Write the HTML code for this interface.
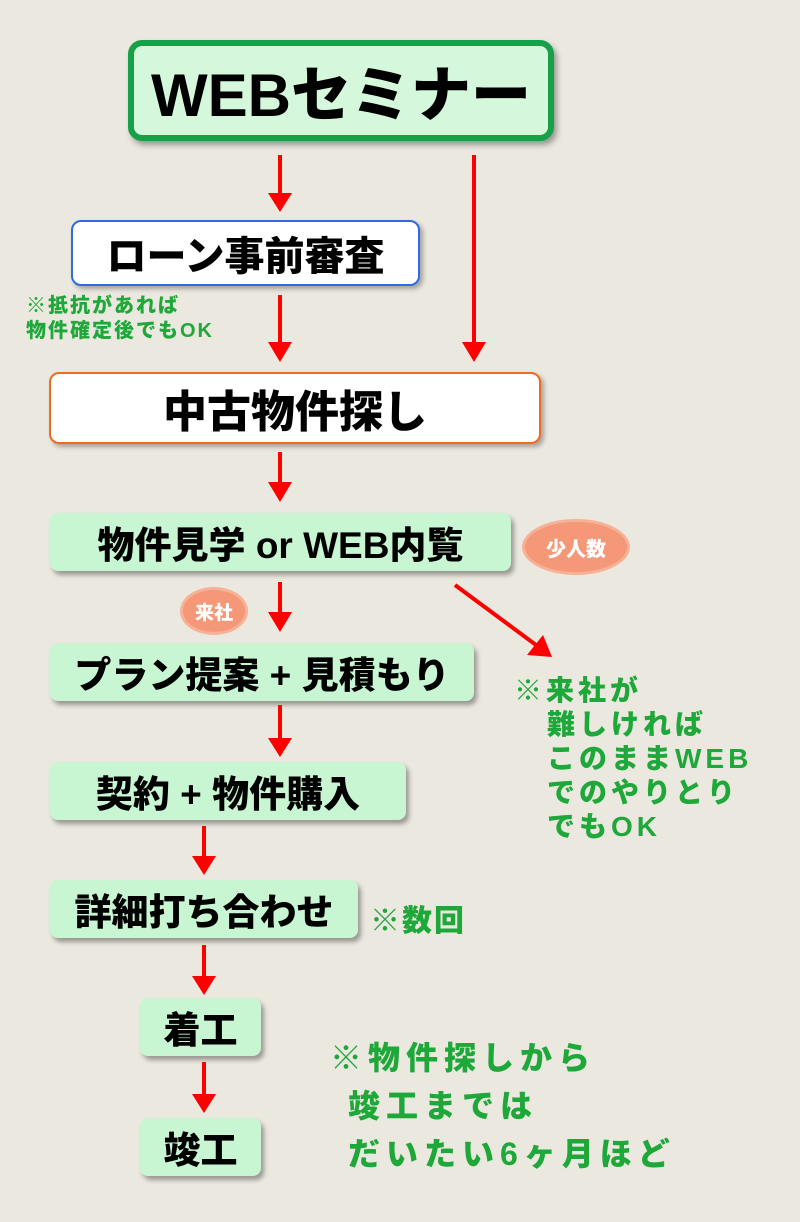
<!DOCTYPE html>
<html><head><meta charset="utf-8"><style>
body{margin:0;width:800px;height:1222px;background:#ebe8df;position:relative;overflow:hidden;font-family:"Liberation Sans","Noto Sans CJK JP",sans-serif;}
.b{position:absolute;box-sizing:border-box;display:flex;align-items:center;justify-content:center;font-weight:900;color:#000;white-space:nowrap;}
.g{background:#c8f6d2;border-radius:8px;box-shadow:3px 4px 5px rgba(0,0,0,.35);}
.n{position:absolute;color:#1fa83a;font-weight:900;white-space:nowrap;}
.c{position:absolute;background:#f49878;border-radius:50%;color:#fff;font-weight:900;display:flex;align-items:center;justify-content:center;box-shadow:0 0 0 3px #f7b196;}
svg{position:absolute;left:0;top:0}
</style></head><body>
<div class="b" style="left:128px;top:40px;width:426px;height:101px;border:6px solid #17a048;background:#d5f8dc;border-radius:14px;font-size:60px;box-shadow:3px 4px 6px rgba(0,0,0,.35)">WEBセミナー</div>
<div class="b" style="left:71px;top:220px;width:349px;height:66px;border:2px solid #2f6be8;background:#fff;border-radius:10px;font-size:40px;box-shadow:3px 3px 5px rgba(0,0,0,.3)">ローン事前審査</div>
<div class="n" style="left:26px;top:294px;font-size:20px;line-height:25px;letter-spacing:2px">※抵抗があれば<br>物件確定後でもOK</div>
<div class="b" style="left:49px;top:372px;width:492px;height:72px;border:2px solid #f26a21;background:#fff;border-radius:10px;font-size:44px;box-shadow:3px 3px 5px rgba(0,0,0,.3)">中古物件探し</div>
<div class="b g" style="left:50px;top:513px;width:461px;height:58px;font-size:37px">物件見学 or WEB内覧</div>
<div class="c" style="left:525px;top:522px;width:102px;height:50px;font-size:20px">少人数</div>
<div class="c" style="left:183px;top:590px;width:62px;height:42px;font-size:19px">来社</div>
<div class="b g" style="left:50px;top:643px;width:424px;height:58px;font-size:37px">プラン提案 + 見積もり</div>
<div class="n" style="left:514px;top:674px;font-size:28px;line-height:34px;letter-spacing:4px">※来社が<br><span style="padding-left:33px">難しければ</span><br><span style="padding-left:33px">このままWEB</span><br><span style="padding-left:33px">でのやりとり</span><br><span style="padding-left:33px">でもOK</span></div>
<div class="b g" style="left:50px;top:762px;width:356px;height:58px;font-size:37px">契約 + 物件購入</div>
<div class="b g" style="left:50px;top:880px;width:308px;height:58px;font-size:37px">詳細打ち合わせ</div>
<div class="n" style="left:370px;top:896px;font-size:30px;letter-spacing:2px">※数回</div>
<div class="b g" style="left:140px;top:998px;width:121px;height:58px;font-size:37px">着工</div>
<div class="b g" style="left:140px;top:1118px;width:121px;height:58px;font-size:37px">竣工</div>
<div class="n" style="left:330px;top:1034px;font-size:32px;line-height:48px;letter-spacing:6px">※物件探しから<br><span style="padding-left:18px">竣工までは</span><br><span style="padding-left:18px">だいたい6ヶ月ほど</span></div>
<svg width="800" height="1222">
<g stroke="#f00" stroke-width="4"><line x1="280" y1="155" x2="280" y2="195"/><line x1="474" y1="155" x2="474" y2="345"/><line x1="280" y1="295" x2="280" y2="345"/><line x1="280" y1="452" x2="280" y2="485"/><line x1="280" y1="582" x2="280" y2="615"/><line x1="455" y1="585" x2="536" y2="645"/><line x1="280" y1="705" x2="280" y2="740"/><line x1="204" y1="826" x2="204" y2="858"/><line x1="204" y1="945" x2="204" y2="978"/><line x1="204" y1="1062" x2="204" y2="1096"/></g>
<g fill="#f00"><polygon points="268,193 292,193 280,212"/><polygon points="462,342 486,342 474,362"/><polygon points="268,342 292,342 280,362"/><polygon points="268,482 292,482 280,502"/><polygon points="268,612 292,612 280,632"/><polygon points="527,655 543,635 552,657"/><polygon points="268,738 292,738 280,757"/><polygon points="192,856 216,856 204,875"/><polygon points="192,976 216,976 204,995"/><polygon points="192,1094 216,1094 204,1113"/></g>
</svg>
</body></html>
